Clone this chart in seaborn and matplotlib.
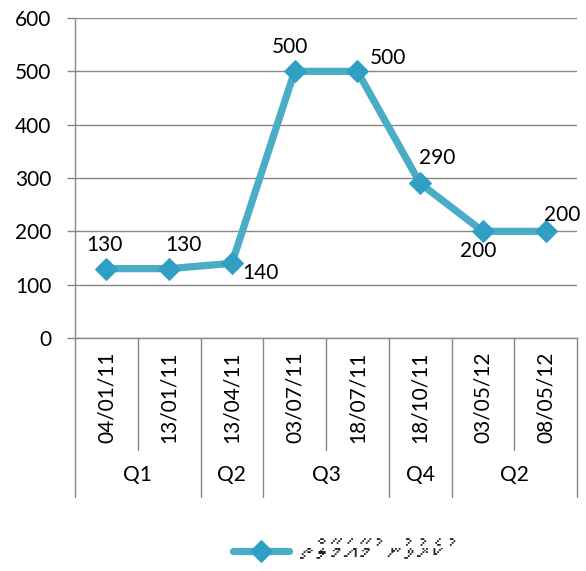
import pandas as pd
import matplotlib
matplotlib.use("Agg")
import matplotlib.pyplot as plt
import seaborn as sns
from matplotlib import font_manager
from matplotlib.ft2font import FT2Font


# Datos del gráfico
dates = ["04/01/11", "13/01/11", "13/04/11", "03/07/11",
         "18/07/11", "18/10/11", "03/05/12", "08/05/12"]
values = [130, 130, 140, 500, 500, 290, 200, 200]
quarters = ["Q1", "Q2", "Q3", "Q4", "Q2"]
quarter_sizes = [2, 1, 2, 1, 2]
y_ticks = [0, 100, 200, 300, 400, 500, 600]
series_name = "ކުރެވުނު މުއާމަލާތް"

sns.set_theme(style="white")
plt.rcParams["font.family"] = ["Lato", "DejaVu Sans"]


def find_thaana_font():
    # Buscar una fuente instalada con glifos thaana
    for f in font_manager.fontManager.ttflist:
        try:
            if 0x0786 in FT2Font(f.fname).get_charmap():
                return f.name
        except Exception:
            pass
    return None


def visual_rtl(text):
    # matplotlib no hace bidi: invertir por grupos (letra + fili)
    clusters = []
    for ch in text:
        if clusters and 0x07A6 <= ord(ch) <= 0x07B0:
            clusters[-1] += ch
        else:
            clusters.append(ch)
    return "".join(reversed(clusters))


thaana_font = find_thaana_font()
legend_family = [thaana_font, "DejaVu Sans"] if thaana_font else ["DejaVu Sans"]

line_color = "#4BACC6"
marker_color = "#2FA0C4"
grid_color = "#888888"
fs = 15

df = pd.DataFrame({"pos": range(len(values)), "value": values})

fig = plt.figure(figsize=(5.86, 5.71), dpi=100)
ax = fig.add_axes([75 / 586, 1 - 338 / 571, 502 / 586, 320 / 571])

sns.lineplot(
    data=df,
    x="pos",
    y="value",
    ax=ax,
    color=line_color,
    linewidth=5.2,
    marker="D",
    markersize=11.5,
    markerfacecolor=marker_color,
    markeredgecolor=marker_color,
    label=visual_rtl(series_name),
    zorder=3,
    clip_on=False,
)

ax.set_xlim(-0.5, len(values) - 0.5)
ax.set_ylim(0, 600)
ax.set_yticks(y_ticks)
ax.set_xticks([])
ax.set_xlabel("")
ax.set_ylabel("")
ax.yaxis.grid(True, color=grid_color, linewidth=1)
ax.set_axisbelow(True)
ax.tick_params(axis="y", left=True, length=6, width=1, color=grid_color,
               pad=11, labelsize=fs, labelcolor="black")
for side in ["top", "right"]:
    ax.spines[side].set_visible(False)
for side in ["left", "bottom"]:
    ax.spines[side].set_color(grid_color)
    ax.spines[side].set_linewidth(1)

# Etiquetas de datos (desplazamiento en píxeles, como en Excel)
offsets = [(-2, 24), (14, 24), (29, -10), (-5, 24),
           (31, 13), (17, 25), (-5, -20), (17, 16)]
for i, (v, (dx, dy)) in enumerate(zip(values, offsets)):
    ax.annotate(f"{v}", (i, v), xytext=(dx, dy), textcoords="offset pixels",
                ha="center", va="center", fontsize=fs, color="black",
                zorder=4, annotation_clip=False)

# Tabla de categorías bajo el eje
tr = ax.get_xaxis_transform()
for i, d in enumerate(dates):
    ax.text(i, -0.184, d, transform=tr, rotation=90, ha="center",
            va="center", fontsize=fs, color="black")

group_edges = [0]
for n in quarter_sizes:
    group_edges.append(group_edges[-1] + n)

for k in range(len(dates) + 1):
    bottom = -0.497 if k in group_edges else -0.35
    ax.plot([k - 0.5, k - 0.5], [0, bottom], transform=tr, color=grid_color,
            linewidth=1, clip_on=False)

for q, start, n in zip(quarters, group_edges[:-1], quarter_sizes):
    ax.text(start + (n - 1) / 2, -0.428, q, transform=tr, ha="center",
            va="center", fontsize=fs, color="black")

leg = ax.legend(loc="center", bbox_to_anchor=(340 / 586, 1 - 553 / 571),
                bbox_transform=fig.transFigure, frameon=False,
                handlelength=1.9, handletextpad=0.4,
                prop={"family": legend_family, "size": 21})

fig.savefig("out.png", dpi=100)
plt.close(fig)
